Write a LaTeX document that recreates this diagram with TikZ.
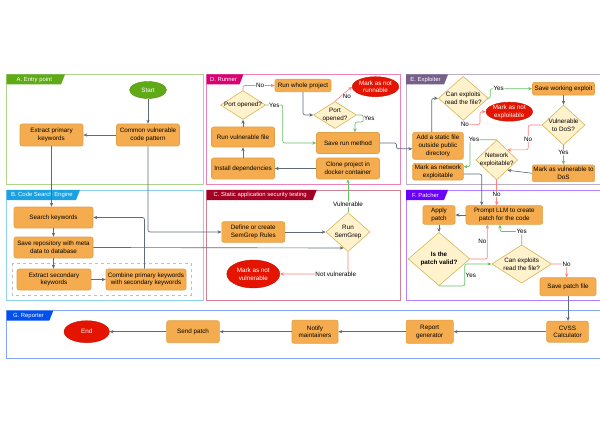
\documentclass[tikz,border=0pt]{standalone}
\usepackage{fontspec}
\setmainfont{Liberation Sans}
\usetikzlibrary{shapes.geometric,arrows.meta}

\definecolor{entrycol}{HTML}{60A917}
\definecolor{searchcol}{HTML}{1BA1E2}
\definecolor{runnercol}{HTML}{D80073}
\definecolor{sastcol}{HTML}{A20025}
\definecolor{exploitcol}{HTML}{76608A}
\definecolor{patchcol}{HTML}{6A00FF}
\definecolor{reportcol}{HTML}{0050EF}
\definecolor{boxfill}{HTML}{F5AC4E}
\definecolor{boxline}{HTML}{DFA04A}
\definecolor{askfill}{HTML}{FFF2CC}
\definecolor{askline}{HTML}{D6B656}
\definecolor{stopfill}{HTML}{E51400}
\definecolor{flowcol}{HTML}{5E6B7B}
\definecolor{nocol}{HTML}{FF8080}
\definecolor{yescol}{HTML}{66C266}

\newcommand{\drawpanel}[8]
{   \draw[#6!50, line width=0.8pt] (#1,#2) rectangle (#3,#4);
    \fill[#6] (#1,#2) -- ++(#5,0) -- ++(-4,10) -- (#1,#2+10) -- cycle;
    \node[tabtext] (#7) at ({#1+#5/2-1.5},{#2+5}) {#8};
}

\begin{document}
\begin{tikzpicture}[x=1pt, y=-1pt, font=\fontsize{6.3}{7.6}\selectfont,
  box/.style={draw=boxline, fill=boxfill, rounded corners=2pt, align=center, inner sep=1pt, line width=0.6pt},
  ask/.style={diamond, draw=askline, fill=askfill, inner sep=0pt, line width=0.6pt},
  asktext/.style={align=center, inner sep=0pt},
  startnode/.style={ellipse, fill=entrycol, draw=entrycol!85!black, text=white, inner sep=0pt},
  stopnode/.style={ellipse, fill=stopfill, draw=stopfill!85!black, text=white, align=center, inner sep=0pt},
  tabtext/.style={text=white, inner sep=0pt, font=\fontsize{5.9}{7}\selectfont},
  lbl/.style={fill=white, inner sep=0.6pt},
  flow/.style={draw=flowcol, line width=0.65pt, rounded corners=2pt, -{Stealth[length=4pt,width=3.4pt]}},
  noflow/.style={flow, draw=nocol},
  yesflow/.style={flow, draw=yescol}]
\useasboundingbox (0,0) rectangle (600,433);

\drawpanel{6.7}{74.5}{203}{184.5}{58.3}{entrycol}{tabA}{A. Entry point}
\drawpanel{6.7}{190}{203}{300.7}{73.3}{searchcol}{tabB}{B. Code Search Engine}
\drawpanel{206.7}{74.5}{400.7}{184.5}{36.7}{runnercol}{tabD}{D. Runner}
\drawpanel{206.7}{190}{400.7}{300.7}{110}{sastcol}{tabC}{C. Static application security testing}
\drawpanel{406}{74.5}{604}{184.5}{42}{exploitcol}{tabE}{E. Exploiter}
\drawpanel{406}{190}{604}{300.7}{42}{patchcol}{tabF}{F. Patcher}
\drawpanel{6.7}{310.7}{604}{358.7}{46.6}{reportcol}{tabG}{G. Reporter}

% entry point
\node[startnode, minimum width=37pt, minimum height=17pt] (start) at (148,90) {Start};
\node[box, minimum width=63pt, minimum height=22pt] (common) at (148,135) {Common vulnerable\\code pattern};
\node[box, minimum width=63pt, minimum height=22pt] (extractp) at (51.5,135) {Extract primary\\keywords};

% code search engine
\draw[dashed, draw=gray!50, line width=0.6pt] (12,263) rectangle (191,295);
\node[box, minimum width=79pt, minimum height=21pt] (search) at (53.5,217.5) {Search keywords};
\node[box, minimum width=79pt, minimum height=21pt] (saverepo) at (53.5,247.5) {Save repository with meta\\data to database};
\node[box, minimum width=74pt, minimum height=21pt] (extracts) at (54,279.5) {Extract secondary\\keywords};
\node[box, minimum width=80pt, minimum height=21pt] (combine) at (146,279.5) {Combine primary keywords\\with secondary keywords};

% runner
\node[box, minimum width=56pt, minimum height=12.5pt] (runwhole) at (303,85.5) {Run whole project};
\node[stopnode, minimum width=45pt, minimum height=20pt] (notrun) at (375.5,86.7) {Mark as not\\runnable};
\node[ask, minimum width=45pt, minimum height=29pt, label={[asktext]center:Port opened?}] (port1) at (243,105) {};
\node[ask, minimum width=43pt, minimum height=27pt, label={[asktext]center:{Port\\opened?}}] (port2) at (335,115) {};
\node[box, minimum width=63pt, minimum height=21pt] (saverun) at (348,143) {Save run method};
\node[box, minimum width=63pt, minimum height=20pt] (runvuln) at (243,137) {Run vulnerable file};
\node[box, minimum width=63pt, minimum height=21pt] (install) at (243,168.5) {Install dependencies};
\node[box, minimum width=63pt, minimum height=21pt] (clone) at (348,168.5) {Clone project in\\docker container};

% static application security testing
\node[box, minimum width=63pt, minimum height=20.6pt] (define) at (253.3,232) {Define or create\\SemGrep Rules};
\node[ask, minimum width=44pt, minimum height=39pt, label={[asktext]center:{Run\\SemGrep}}] (semgrep) at (348,232) {};
\node[stopnode, minimum width=53pt, minimum height=28pt] (notvuln) at (253.3,274) {Mark as not\\vulnerable};

% exploiter
\node[ask, minimum width=50pt, minimum height=44pt, label={[asktext]center:{Can exploits\\read the file?}}] (canread) at (463.3,98.3) {};
\node[box, minimum width=62pt, minimum height=12.7pt] (savexp) at (563.5,88.7) {Save working exploit};
\node[stopnode, minimum width=46pt, minimum height=17.3pt] (notexp) at (509.3,111.7) {Mark as not\\exploitable};
\node[ask, minimum width=43pt, minimum height=40pt, label={[asktext]center:{Vulnerable\\to DoS?}}] (dos) at (563.5,125) {};
\node[box, minimum width=50.6pt, minimum height=27pt] (addfile) at (438,145.8) {Add a static file\\outside public\\directory};
\node[box, minimum width=50.6pt, minimum height=16.7pt] (netmark) at (438,171.7) {Mark as network\\exploitable};
\node[ask, minimum width=42pt, minimum height=40pt, label={[asktext]center:{Network\\exploitable?}}] (netx) at (496.7,160) {};
\node[box, minimum width=62.3pt, minimum height=16.7pt] (dosmark) at (563.5,173.3) {Mark as vulnerable to\\DoS};

% patcher
\node[box, minimum width=76.7pt, minimum height=18.6pt] (prompt) at (504.3,215) {Prompt LLM to create\\patch for the code};
\node[box, minimum width=32.3pt, minimum height=18.6pt] (apply) at (439,215) {Apply\\patch};
\node[ask, minimum width=61.7pt, minimum height=53.3pt, label={[asktext, font=\fontsize{6.3}{7.6}\selectfont\bfseries]center:{Is the\\patch valid?}}] (valid) at (439,259) {};
\node[ask, minimum width=60pt, minimum height=38.3pt, label={[asktext]center:{Can exploits\\read the file?}}] (canread2) at (521.7,264) {};
\node[box, minimum width=56pt, minimum height=18pt] (savepatch) at (568,286.7) {Save patch file};

% reporter
\node[stopnode, minimum width=45.3pt, minimum height=22pt] (stop) at (86.7,331.7) {End};
\node[box, minimum width=52.6pt, minimum height=22pt] (send) at (193,331.7) {Send patch};
\node[box, minimum width=46pt, minimum height=23.3pt] (notify) at (315,331.7) {Notify\\maintainers};
\node[box, minimum width=47.3pt, minimum height=23.3pt] (report) at (429.7,331.7) {Report\\generator};
\node[box, minimum width=41.6pt, minimum height=21pt] (cvss) at (567.5,331.7) {CVSS\\Calculator};

% connectors
\draw[flow] (start) -- (common);
\draw[flow] (common) -- (extractp);
\draw[flow] (extractp.south) -- (extractp.south |- search.north);
\draw[flow] (common.south) |- (define.west);
\draw[flow] (search) -- (saverepo);
\draw[flow] (saverepo.south) -- (saverepo.south |- extracts.north);
\draw[flow] (extracts) -- (combine);
\draw[flow] ([xshift=-1.5pt]combine.north) |- (search.east);
\draw[flow] (saverepo.east) -- (semgrep.255);

\draw[flow] (clone) -- (install);
\draw[flow] (install) -- (runvuln);
\draw[flow] (runvuln) -- (port1);
\draw[noflow] (port1.north) |- (runwhole.west) node[lbl, pos=0.77] {No};
\draw[yesflow] (port1.east) -- ++(17,0) node[lbl, midway] {Yes} |- (saverun.west);
\draw[flow] (runwhole.south) |- (port2.west);
\draw[noflow] (port2.north) -- (notrun.west) node[lbl, pos=0.35, xshift=6pt] {No};
\draw[yesflow] (port2.east) -| ++(6.5,7) node[lbl, pos=0.75, anchor=west] {Yes} -| ([xshift=7pt]saverun.north);
\draw[flow] (saverun.east) -- ++(16.7,0) |- ([yshift=-3pt]addfile.west);

\draw[flow] (define) -- (semgrep);
\draw[yesflow] (semgrep.north) -- (clone.south) node[lbl, pos=0.24] {Vulnerable};
\draw[noflow] (semgrep.south) |- (notvuln.east) node[lbl, pos=0.59] {Not vulnerable};

\draw[flow] ([xshift=-6.3pt]addfile.north) |- (canread.west);
\draw[yesflow] (canread.east) -- ++(1.7,0) |- (savexp.west) node[lbl, pos=0.6] {Yes};
\draw[noflow] (canread.south) |- ++(16.7,4) node[lbl, pos=0.55] {No} |- (notexp.west);
\draw[flow] (savexp) -- (dos);
\draw[noflow] (dos.west) -- ++(-13.5,0) |- (netx.north east) node[lbl, pos=0.28] {No};
\draw[yesflow] (dos) -- (dosmark) node[lbl, pos=0.37] {Yes};
\draw[flow] (dosmark.west) -- (netx.south east);
\draw[yesflow] (netx.north) -- ++(-26.7,0) node[lbl, pos=0.85] {Yes} |- ([yshift=5pt]netmark.east);
\draw[noflow] (netx.south) -- (netx.south |- prompt.north) node[lbl, pos=0.56] {No};
\draw[flow] ([yshift=-2.3pt]netmark.east) -| ([xshift=-22.6pt]prompt.north);

\draw[flow] (prompt) -- (apply);
\draw[flow] (apply) -- (valid);
\draw[noflow] (valid.east) -| ([xshift=-17pt]prompt.south) node[lbl, pos=0.75, anchor=east] {No};
\draw[yesflow] (valid.south) -- ++(25.7,0) |- (canread2.west) node[lbl, pos=0.25, anchor=west] {Yes};
\draw[yesflow] (canread2.north) -- ++(0,-13) node[lbl, pos=1] {Yes} -| ([xshift=-4.3pt]prompt.south);
\draw[noflow] (canread2.east) -| ([xshift=-1.3pt]savepatch.north) node[lbl, pos=0.5] {No};
\draw[flow] (savepatch.south) -- (savepatch.south |- cvss.north);

\draw[flow] (cvss) -- (report);
\draw[flow] (report) -- (notify);
\draw[flow] (notify) -- (send);
\draw[flow] (send) -- (stop);

\end{tikzpicture}
\end{document}
